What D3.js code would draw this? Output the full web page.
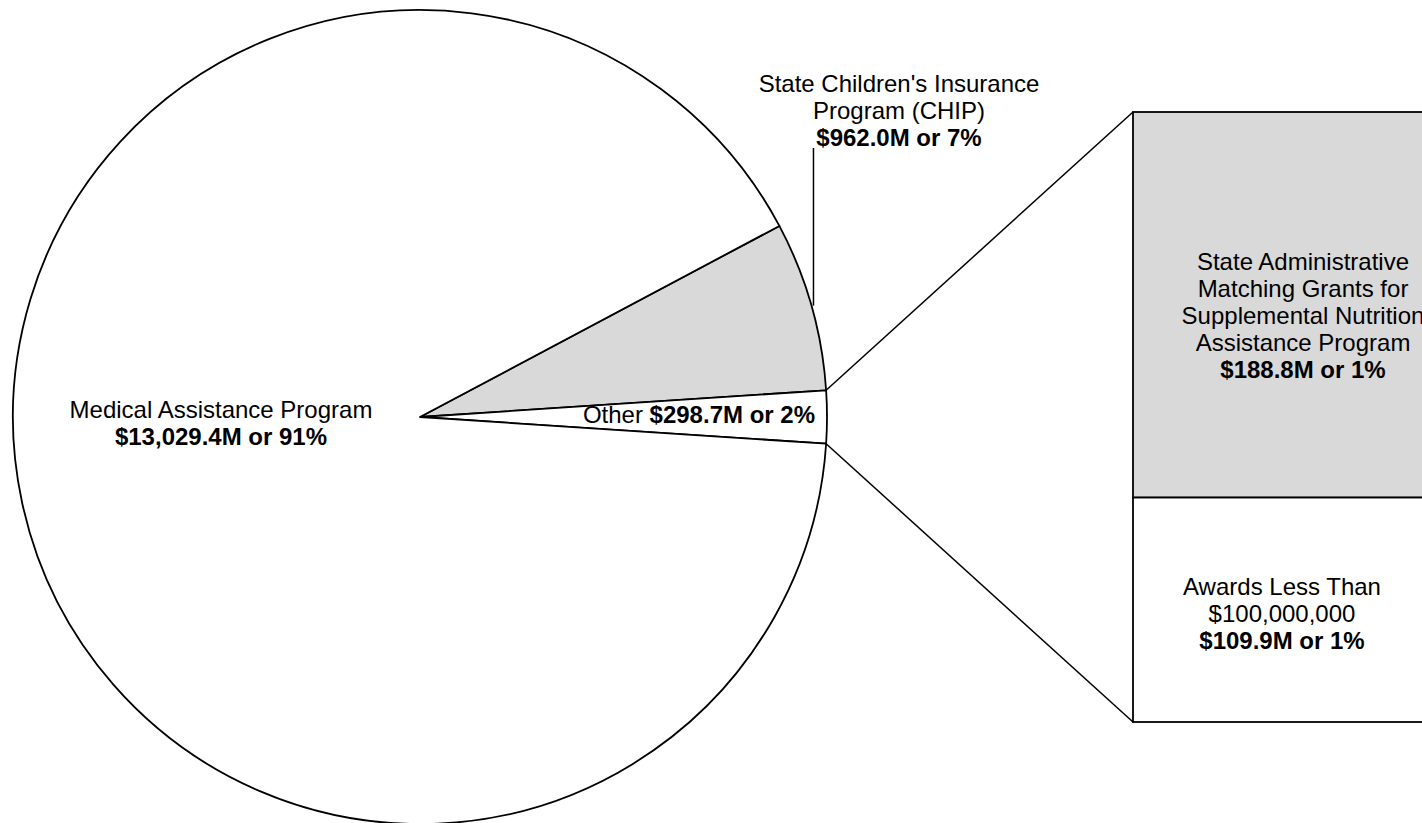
<!DOCTYPE html>
<html>
<head>
<meta charset="utf-8">
<script src="https://cdn.jsdelivr.net/npm/d3@7"></script>
<style>
  html, body { margin: 0; padding: 0; background: #fff; }
  svg { display: block; font-family: "Liberation Sans", Arial, sans-serif; }
</style>
</head>
<body>
<div id="chart"></div>
<script>
var width = 1422,
	height = 823;

// pie slices, in drawing order (clockwise)
var pieNames = ["CHIP", "Other", "Medical"];
var pieValues = [962.0, 298.7, 13029.4];
var pieColors = ["#d9d9d9", "#ffffff", "#ffffff"];

// breakdown of "Other" into the bar
var barNames = ["SNAP Admin", "Awards < 100M"];
var barValues = [188.8, 109.9];
var barColors = ["#d9d9d9", "#ffffff"];

var cx = 420, cy = 417, radius = 407;
var fontSize = 24;
var lineGap = 27;

var svg = d3.select("#chart").append("svg")
	.attr("width", width)
	.attr("height", height);

// center the "Other" slice on 3 o'clock
var total = d3.sum(pieValues);
var chipAngle = pieValues[0] / total * 2 * Math.PI;
var otherAngle = pieValues[1] / total * 2 * Math.PI;
var start = Math.PI / 2 - otherAngle / 2 - chipAngle;

var pie = d3.pie().sort(null).startAngle(start).endAngle(start + 2 * Math.PI);
var arcs = pie(pieValues);
var arc = d3.arc().innerRadius(0).outerRadius(radius);

var g = svg.append("g").attr("transform", "translate(" + cx + "," + cy + ")");
g.selectAll("path")
	.data(arcs)
	.enter().append("path")
	.attr("d", arc)
	.attr("fill", function(d, i) { return pieColors[i]; })
	.attr("stroke", "#000")
	.attr("stroke-width", 1.8)
	.attr("stroke-linejoin", "round");

function polar(a, r) {
	return [cx + r * Math.sin(a), cy - r * Math.cos(a)];
}

// bar of pie
var barX = 1133, barW = 300;
var y = d3.scaleLinear().domain([0, d3.sum(barValues)]).range([112, 722]);
var barStack = [];
var acc = 0;
for (var i = 0; i < barValues.length; i++) {
	barStack.push({ y0: acc, y1: acc + barValues[i], color: barColors[i] });
	acc += barValues[i];
}
svg.selectAll("rect.bar")
	.data(barStack)
	.enter().append("rect")
	.attr("class", "bar")
	.attr("x", barX)
	.attr("y", function(d) { return y(d.y0); })
	.attr("width", barW)
	.attr("height", function(d) { return y(d.y1) - y(d.y0); })
	.attr("fill", function(d) { return d.color; })
	.attr("stroke", "#000")
	.attr("stroke-width", 1.8);

// connector lines
var otherArc = arcs[1];
var p1 = polar(otherArc.startAngle, radius);
var p2 = polar(otherArc.endAngle, radius);
svg.append("line")
	.attr("x1", p1[0]).attr("y1", p1[1])
	.attr("x2", barX).attr("y2", y(0))
	.attr("stroke", "#000").attr("stroke-width", 1.5);
svg.append("line")
	.attr("x1", p2[0]).attr("y1", p2[1])
	.attr("x2", barX).attr("y2", y(d3.sum(barValues)))
	.attr("stroke", "#000").attr("stroke-width", 1.5);

// CHIP leader
var chipMid = polar((arcs[0].startAngle + arcs[0].endAngle) / 2, radius);
svg.append("line")
	.attr("x1", chipMid[0] + 2).attr("y1", chipMid[1])
	.attr("x2", chipMid[0] + 2).attr("y2", 148)
	.attr("stroke", "#000").attr("stroke-width", 1.5);

function drawLabel(x, yTop, lines, anchor) {
	var t = svg.append("text")
		.attr("x", x)
		.attr("y", yTop)
		.attr("text-anchor", anchor || "middle")
		.attr("font-size", fontSize)
		.attr("fill", "#000");
	lines.forEach(function(l, i) {
		t.append("tspan")
			.attr("x", x)
			.attr("dy", i == 0 ? 0 : lineGap)
			.attr("font-weight", l.bold ? "bold" : "normal")
			.text(l.text);
	});
}

drawLabel(221, 418, [
	{ text: "Medical Assistance Program" },
	{ text: "$13,029.4M or 91%", bold: true }
]);
drawLabel(899, 92, [
	{ text: "State Children's Insurance" },
	{ text: "Program (CHIP)" },
	{ text: "$962.0M or 7%", bold: true }
]);
drawLabel(1303, 270, [
	{ text: "State Administrative" },
	{ text: "Matching Grants for" },
	{ text: "Supplemental Nutrition" },
	{ text: "Assistance Program" },
	{ text: "$188.8M or 1%", bold: true }
]);
drawLabel(1282, 595, [
	{ text: "Awards Less Than" },
	{ text: "$100,000,000" },
	{ text: "$109.9M or 1%", bold: true }
]);

// "Other" label, single line with bold value
var ot = svg.append("text")
	.attr("x", 815)
	.attr("y", 423)
	.attr("text-anchor", "end")
	.attr("font-size", fontSize);
ot.append("tspan").text("Other ");
ot.append("tspan").attr("font-weight", "bold").text("$298.7M or 2%");
</script>
</body>
</html>
